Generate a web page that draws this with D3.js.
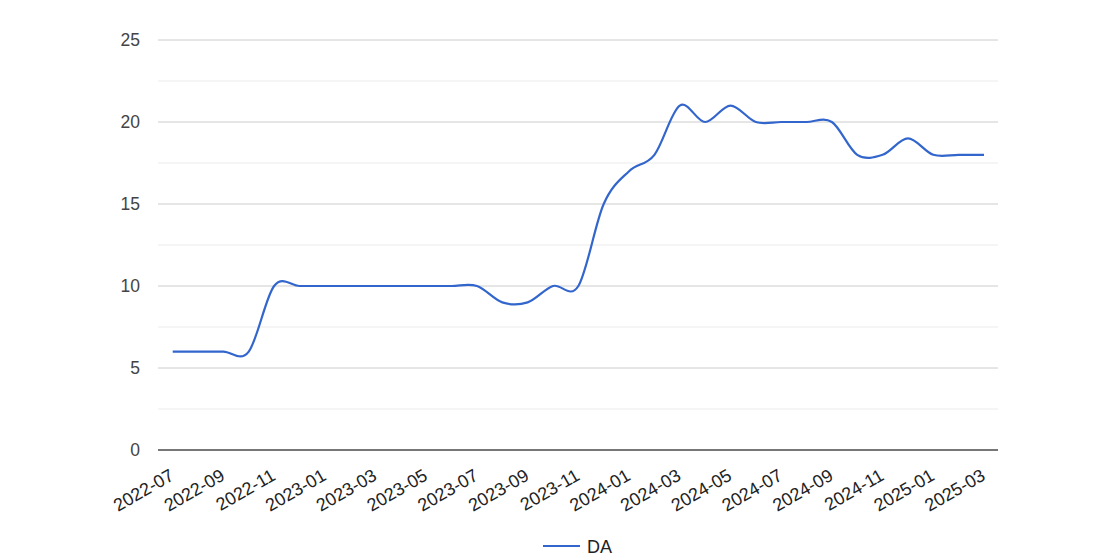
<!DOCTYPE html>
<html>
<head>
<meta charset="utf-8">
<script src="https://cdn.jsdelivr.net/npm/d3@7"></script>
<style>
  html, body { margin: 0; padding: 0; background: #fff; }
  svg { display: block; font-family: Arial, "Liberation Sans", sans-serif; }
</style>
</head>
<body>
<svg id="chart" width="1114" height="560"></svg>
<script>
const months = ["2022-07","2022-08","2022-09","2022-10","2022-11","2022-12",
  "2023-01","2023-02","2023-03","2023-04","2023-05","2023-06","2023-07","2023-08",
  "2023-09","2023-10","2023-11","2023-12","2024-01","2024-02","2024-03","2024-04",
  "2024-05","2024-06","2024-07","2024-08","2024-09","2024-10","2024-11","2024-12",
  "2025-01","2025-02","2025-03"];
const daValues = [6,6,6,6,10,10,10,10,10,10,10,10,10,9,9,10,10,15,17,18,21,20,21,20,20,20,20,18,18,19,18,18,18];
const tickLabels = ["2022-07","2022-09","2022-11","2023-01","2023-03","2023-05","2023-07",
  "2023-09","2023-11","2024-01","2024-03","2024-05","2024-07","2024-09","2024-11","2025-01","2025-03"];
const yMajor = [0,5,10,15,20,25];
const yMinor = [2.5,7.5,12.5,17.5,22.5];
const seriesName = "DA";

const svg = d3.select("#chart");
const plotLeft = 158, plotRight = 998, plotTop = 40, plotBottom = 450;
const FONT = "Arial, 'Liberation Sans', sans-serif";

const x = d3.scalePoint().domain(months).range([172.7, 984]);
const y = d3.scaleLinear().domain([0, 25]).range([plotBottom, plotTop]);

// minor gridlines
svg.append("g").selectAll("line").data(yMinor).join("line")
  .attr("x1", plotLeft).attr("x2", plotRight)
  .attr("y1", d => y(d)).attr("y2", d => y(d))
  .attr("stroke", "#ebebeb").attr("stroke-width", 1);

// major gridlines
svg.append("g").selectAll("line").data(yMajor.filter(d => d !== 0)).join("line")
  .attr("x1", plotLeft).attr("x2", plotRight)
  .attr("y1", d => y(d)).attr("y2", d => y(d))
  .attr("stroke", "#cccccc").attr("stroke-width", 1);

// y axis labels
const yAxis = d3.axisLeft(y).tickValues(yMajor).tickSize(0).tickPadding(0);
const yg = svg.append("g").attr("transform", `translate(140,0)`).call(yAxis);
yg.select(".domain").remove();
yg.selectAll("text").attr("font-size", 17.5).attr("fill", "#444").attr("font-family", FONT);

// line
const line = d3.line()
  .x((d, i) => x(months[i]))
  .y(d => y(d))
  .curve(d3.curveCardinal.tension(0));
svg.append("path").datum(daValues)
  .attr("d", line)
  .attr("fill", "none")
  .attr("stroke", "#3366cc")
  .attr("stroke-width", 2.2);

// baseline
svg.append("line")
  .attr("x1", plotLeft).attr("x2", plotRight)
  .attr("y1", y(0)).attr("y2", y(0))
  .attr("stroke", "#777").attr("stroke-width", 2);

// x axis labels
const xAxis = d3.axisBottom(x).tickValues(tickLabels).tickSize(0).tickPadding(0);
const xg = svg.append("g").attr("transform", `translate(0,${plotBottom})`).call(xAxis);
xg.select(".domain").remove();
xg.selectAll("text")
  .attr("font-size", 18).attr("fill", "#222")
  .attr("font-family", FONT)
  .attr("text-anchor", "end")
  .attr("dy", null)
  .attr("y", 0)
  .attr("transform", "translate(2,29) rotate(-30)");

// legend
const lg = svg.append("g");
lg.append("line").attr("x1", 543).attr("x2", 580).attr("y1", 546).attr("y2", 546)
  .attr("stroke", "#3366cc").attr("stroke-width", 2.2);
lg.append("text").attr("x", 587).attr("y", 552.5).text(seriesName)
  .attr("font-size", 18).attr("fill", "#222").attr("font-family", FONT);
</script>
</body>
</html>
